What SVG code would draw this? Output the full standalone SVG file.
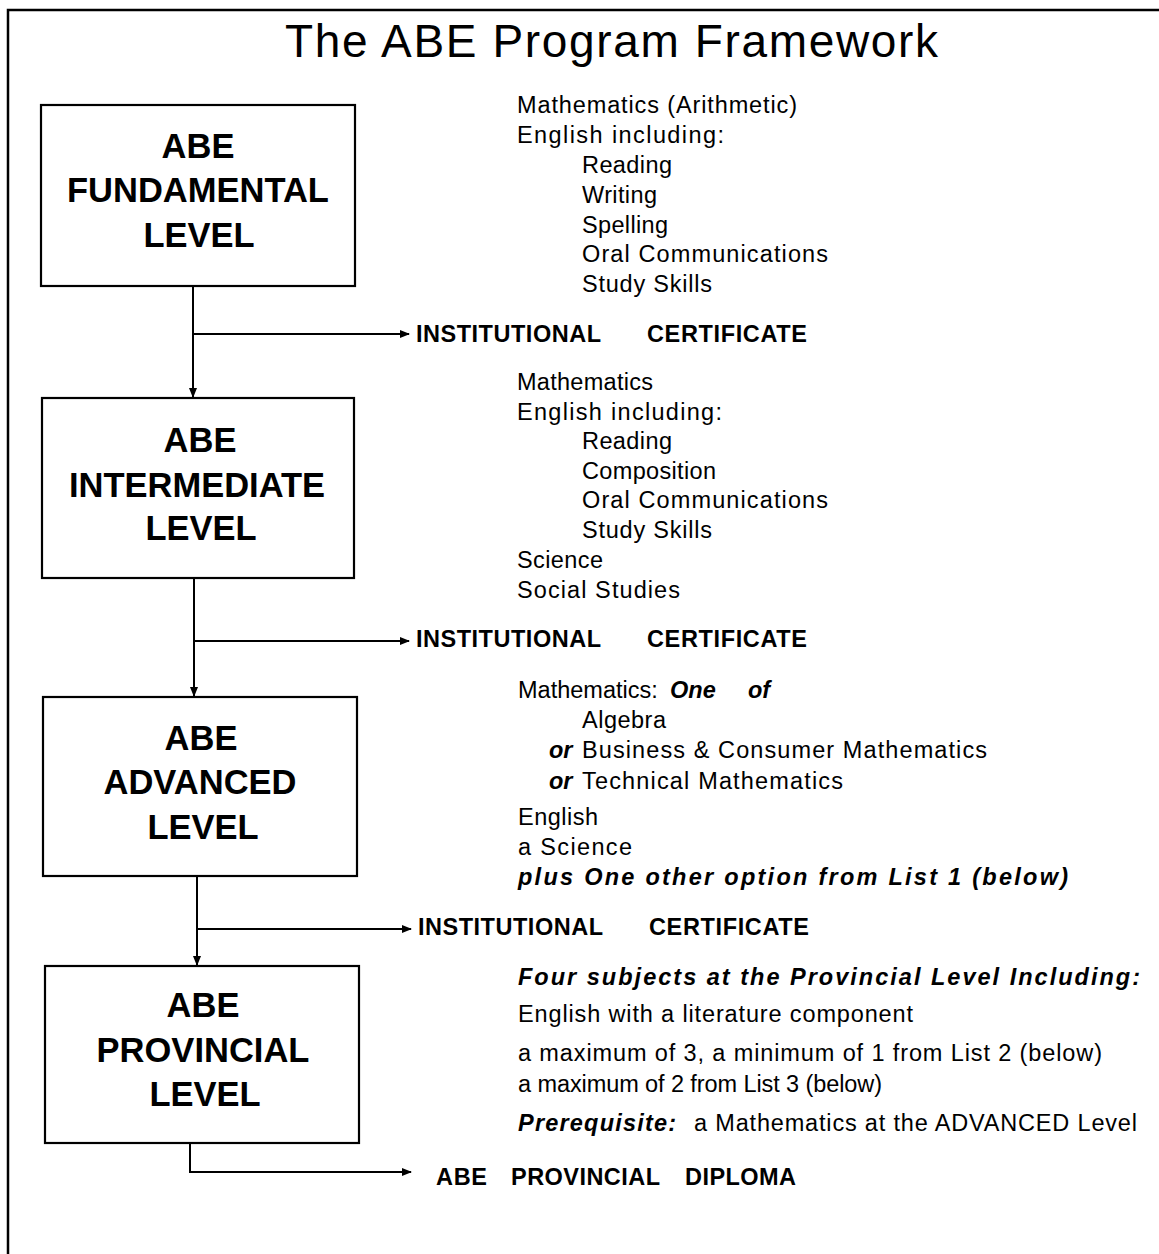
<svg xmlns="http://www.w3.org/2000/svg" width="1159" height="1254" viewBox="0 0 1159 1254">
<style>
  text { font-family: "Liberation Sans", Arial, sans-serif; fill: #000; }
  .title { font-size: 46px; }
  .box { fill: #fff; stroke: #000; stroke-width: 2.2; }
  .blab { font-size: 34.5px; font-weight: bold; text-anchor: middle; }
  .t { font-size: 23.5px; }
  .bi { font-size: 23.5px; font-weight: bold; font-style: italic; }
  .cert { font-size: 23.5px; font-weight: bold; }
  .conn { fill: none; stroke: #000; stroke-width: 2; }
  .frame { fill: none; stroke: #000; stroke-width: 2.5; }
</style>
<defs>
  <marker id="arr" markerUnits="userSpaceOnUse" markerWidth="10" markerHeight="8" refX="9" refY="4" orient="auto">
    <path d="M0,0 L10,4 L0,8 z" fill="#000"/>
  </marker>
</defs>
<rect width="1159" height="1254" fill="#fff"/>
<path class="frame" d="M8,1254 L8,10 L1159,10"/>
<text class="title" x="285" y="57" textLength="653" lengthAdjust="spacing">The ABE Program Framework</text>

<g id="connectors">
  <path class="conn" d="M193,286 L193,397" marker-end="url(#arr)"/>
  <path class="conn" d="M193,334 L409,334" marker-end="url(#arr)"/>
  <path class="conn" d="M194,578 L194,696" marker-end="url(#arr)"/>
  <path class="conn" d="M194,641 L409,641" marker-end="url(#arr)"/>
  <path class="conn" d="M197,876 L197,965" marker-end="url(#arr)"/>
  <path class="conn" d="M197,929 L411,929" marker-end="url(#arr)"/>
  <path class="conn" d="M190,1143 L190,1172 L411,1172" marker-end="url(#arr)"/>
</g>

<g id="fundamental">
  <rect class="box" x="41" y="105" width="314" height="181"/>
  <text class="blab" x="198" y="158">ABE</text>
  <text class="blab" x="198" y="202">FUNDAMENTAL</text>
  <text class="blab" x="199" y="247">LEVEL</text>
</g>
<g id="intermediate">
  <rect class="box" x="42" y="398" width="312" height="180"/>
  <text class="blab" x="200" y="452">ABE</text>
  <text class="blab" x="197" y="497">INTERMEDIATE</text>
  <text class="blab" x="201" y="540">LEVEL</text>
</g>
<g id="advanced">
  <rect class="box" x="43" y="697" width="314" height="179"/>
  <text class="blab" x="201" y="750">ABE</text>
  <text class="blab" x="200" y="794">ADVANCED</text>
  <text class="blab" x="203" y="839">LEVEL</text>
</g>
<g id="provincial">
  <rect class="box" x="45" y="966" width="314" height="177"/>
  <text class="blab" x="203" y="1017">ABE</text>
  <text class="blab" x="203" y="1062">PROVINCIAL</text>
  <text class="blab" x="205" y="1106">LEVEL</text>
</g>

<g id="cert1">
  <text class="cert" x="416" y="342" textLength="185" lengthAdjust="spacing">INSTITUTIONAL</text>
  <text class="cert" x="647" y="342" textLength="160" lengthAdjust="spacing">CERTIFICATE</text>
</g>
<g id="cert2">
  <text class="cert" x="416" y="647" textLength="185" lengthAdjust="spacing">INSTITUTIONAL</text>
  <text class="cert" x="647" y="647" textLength="160" lengthAdjust="spacing">CERTIFICATE</text>
</g>
<g id="cert3">
  <text class="cert" x="418" y="935" textLength="185" lengthAdjust="spacing">INSTITUTIONAL</text>
  <text class="cert" x="649" y="935" textLength="160" lengthAdjust="spacing">CERTIFICATE</text>
</g>
<g id="diploma">
  <text class="cert" x="436" y="1185" textLength="51" lengthAdjust="spacing">ABE</text>
  <text class="cert" x="511" y="1185" textLength="149" lengthAdjust="spacing">PROVINCIAL</text>
  <text class="cert" x="685" y="1185" textLength="111" lengthAdjust="spacing">DIPLOMA</text>
</g>

<g id="fundamental-subjects">
  <text class="t" x="517" y="113" textLength="280" lengthAdjust="spacing">Mathematics  (Arithmetic)</text>
  <text class="t" x="517" y="143" textLength="207" lengthAdjust="spacing">English   including:</text>
  <text class="t" x="582" y="173" textLength="90" lengthAdjust="spacing">Reading</text>
  <text class="t" x="582" y="203" textLength="75" lengthAdjust="spacing">Writing</text>
  <text class="t" x="582" y="233" textLength="86" lengthAdjust="spacing">Spelling</text>
  <text class="t" x="582" y="262" textLength="246" lengthAdjust="spacing">Oral  Communications</text>
  <text class="t" x="582" y="292" textLength="130" lengthAdjust="spacing">Study  Skills</text>
</g>

<g id="intermediate-subjects">
  <text class="t" x="517" y="390" textLength="136" lengthAdjust="spacing">Mathematics</text>
  <text class="t" x="517" y="420" textLength="205" lengthAdjust="spacing">English   including:</text>
  <text class="t" x="582" y="449" textLength="90" lengthAdjust="spacing">Reading</text>
  <text class="t" x="582" y="479" textLength="134" lengthAdjust="spacing">Composition</text>
  <text class="t" x="582" y="508" textLength="246" lengthAdjust="spacing">Oral  Communications</text>
  <text class="t" x="582" y="538" textLength="130" lengthAdjust="spacing">Study  Skills</text>
  <text class="t" x="517" y="568" textLength="86" lengthAdjust="spacing">Science</text>
  <text class="t" x="517" y="598" textLength="163" lengthAdjust="spacing">Social  Studies</text>
</g>

<g id="advanced-subjects">
  <text class="t" x="518" y="698">Mathematics:</text>
  <text class="bi" x="670" y="698">One</text>
  <text class="bi" x="748" y="698">of</text>
  <text class="t" x="582" y="728" textLength="84" lengthAdjust="spacing">Algebra</text>
  <text class="bi" x="549" y="758">or</text>
  <text class="t" x="582" y="758" textLength="405" lengthAdjust="spacing">Business  &amp;  Consumer  Mathematics</text>
  <text class="bi" x="549" y="789">or</text>
  <text class="t" x="582" y="789" textLength="261" lengthAdjust="spacing">Technical  Mathematics</text>
  <text class="t" x="518" y="825" textLength="80" lengthAdjust="spacing">English</text>
  <text class="t" x="518" y="855" textLength="114" lengthAdjust="spacing">a  Science</text>
  <text class="bi" x="518" y="885" textLength="550" lengthAdjust="spacing">plus  One  other  option  from  List  1  (below)</text>
</g>

<g id="provincial-subjects">
  <text class="bi" x="518" y="985" textLength="622" lengthAdjust="spacing">Four  subjects  at  the  Provincial  Level  Including:</text>
  <text class="t" x="518" y="1022" textLength="395" lengthAdjust="spacing">English with a literature component</text>
  <text class="t" x="518" y="1061" textLength="584" lengthAdjust="spacing">a maximum of 3, a minimum of 1 from List 2 (below)</text>
  <text class="t" x="518" y="1092" textLength="364" lengthAdjust="spacing">a maximum of 2 from List 3 (below)</text>
  <text class="bi" x="518" y="1131" textLength="158" lengthAdjust="spacing">Prerequisite:</text>
  <text class="t" x="694" y="1131" textLength="443" lengthAdjust="spacing">a Mathematics at the ADVANCED Level</text>
</g>
</svg>
